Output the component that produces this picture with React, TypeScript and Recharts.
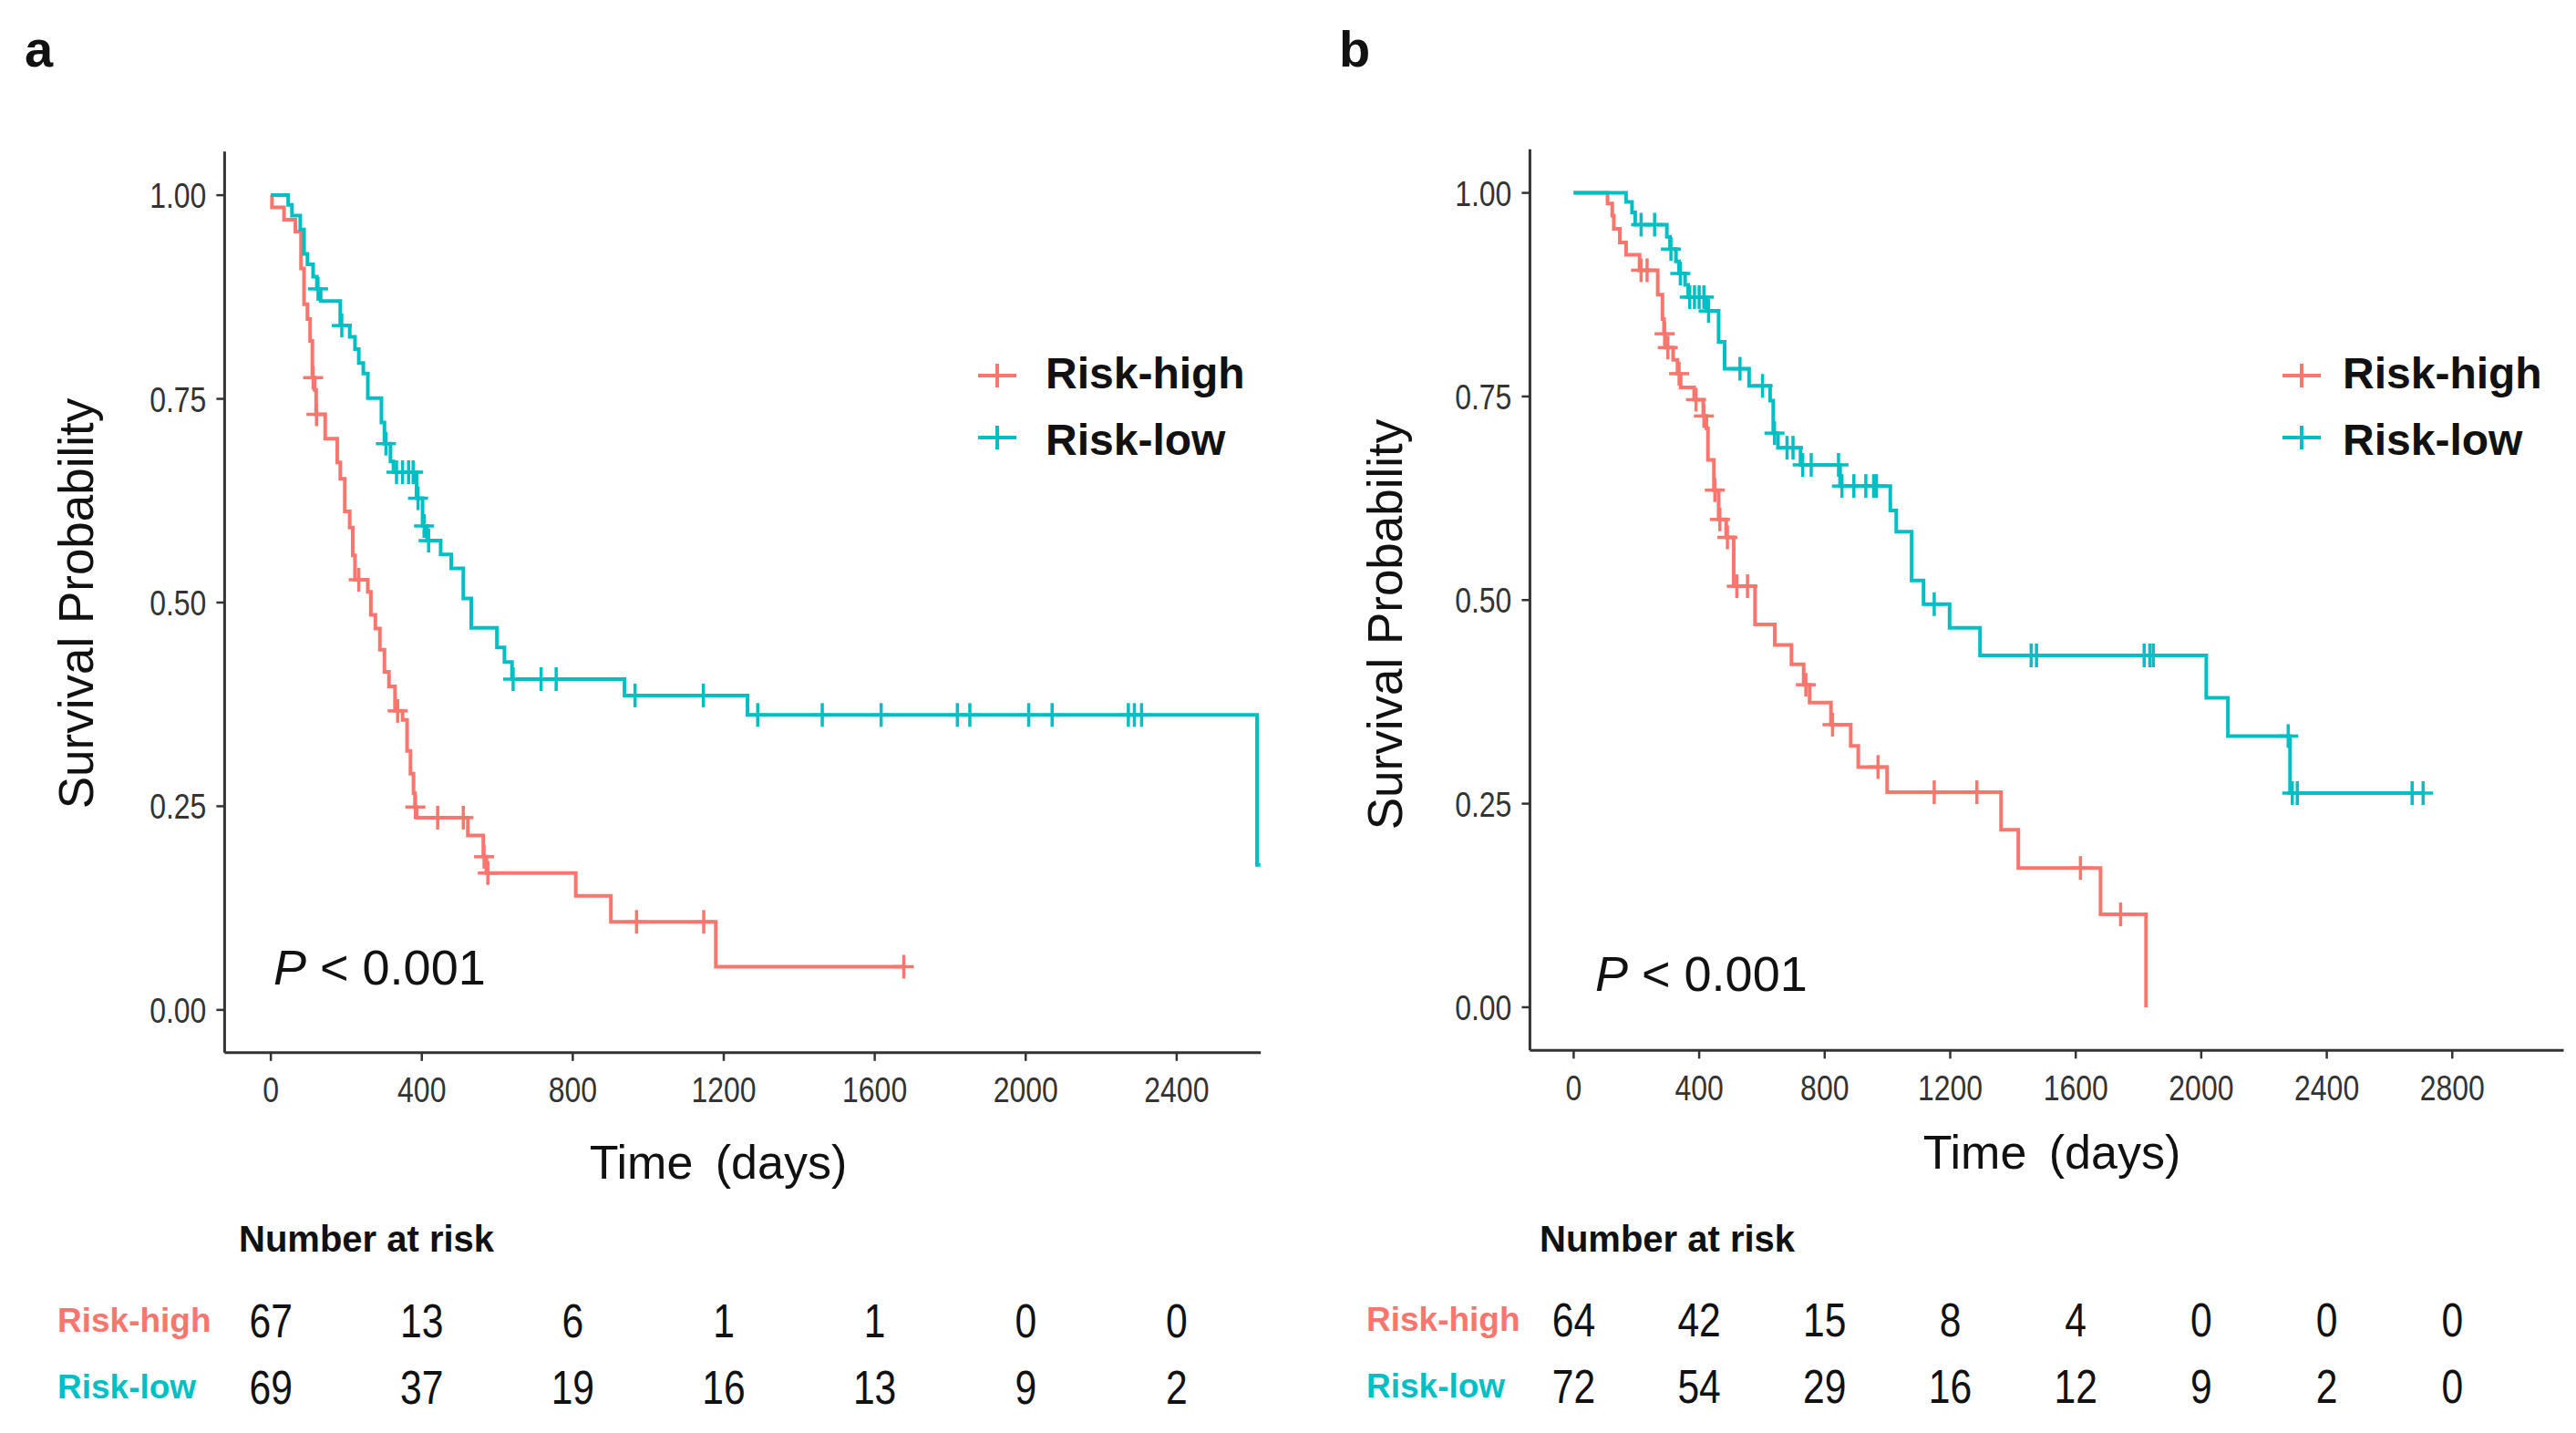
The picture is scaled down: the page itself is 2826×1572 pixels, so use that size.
import React from 'react';
import { ComposedChart, Line, Scatter, XAxis, YAxis, Legend } from 'recharts';

// ---------------- data ----------------
const RED = '#F8766D';
const TEAL = '#00BFC4';
const groupNames = ['Risk-high', 'Risk-low'];
const groupColors = [RED, TEAL];

// Panel a – Kaplan–Meier steps (time in days, survival after the step)
const aHighTime = [0, 3, 35, 65, 80, 88, 97, 104, 110, 116, 120, 144, 176, 184, 196, 209, 217, 223, 257, 265, 277, 289, 301, 313, 329, 349, 361, 370, 378, 382, 386, 522, 563, 571, 808, 901, 1179, 1677];
const aHighSurv = [1, 0.985, 0.970, 0.955, 0.910, 0.866, 0.848, 0.821, 0.776, 0.761, 0.731, 0.701, 0.672, 0.652, 0.612, 0.592, 0.558, 0.528, 0.513, 0.485, 0.468, 0.442, 0.415, 0.397, 0.367, 0.356, 0.318, 0.290, 0.266, 0.249, 0.236, 0.214, 0.188, 0.168, 0.140, 0.108, 0.053, 0.053];
const aHighCensor = [112, 121, 233, 336, 383, 442, 510, 565, 575, 969, 1147, 1677];

const aLowTime = [0, 46, 56, 78, 88, 97, 112, 122, 132, 184, 209, 223, 233, 245, 257, 293, 301, 317, 325, 386, 402, 414, 450, 478, 510, 531, 599, 619, 639, 937, 1263, 2613, 2622];
const aLowSurv = [1, 0.988, 0.975, 0.958, 0.928, 0.915, 0.900, 0.885, 0.870, 0.840, 0.826, 0.811, 0.794, 0.781, 0.751, 0.721, 0.695, 0.673, 0.660, 0.628, 0.594, 0.576, 0.559, 0.542, 0.505, 0.469, 0.445, 0.427, 0.406, 0.386, 0.362, 0.178, 0.178];
const aLowCensor = [125, 188, 305, 333, 349, 365, 377, 390, 406, 418, 642, 716, 756, 965, 1146, 1290, 1461, 1617, 1819, 1852, 2008, 2070, 2272, 2288, 2307];

// Panel b
const bHighTime = [0, 108, 123, 128, 147, 167, 210, 268, 283, 288, 292, 317, 331, 341, 384, 413, 423, 428, 447, 462, 486, 510, 578, 641, 694, 733, 752, 820, 883, 907, 999, 1362, 1417, 1679, 1824];
const bHighSurv = [1, 0.987, 0.972, 0.956, 0.939, 0.924, 0.905, 0.875, 0.845, 0.827, 0.810, 0.795, 0.778, 0.761, 0.746, 0.726, 0.711, 0.672, 0.635, 0.599, 0.577, 0.517, 0.470, 0.445, 0.421, 0.396, 0.374, 0.347, 0.321, 0.295, 0.264, 0.218, 0.171, 0.114, 0];
const bHighCensor = [215, 234, 290, 300, 336, 390, 415, 450, 466, 490, 520, 554, 740, 825, 970, 1149, 1285, 1615, 1743];

const bLowTime = [0, 167, 186, 196, 297, 307, 326, 336, 355, 365, 423, 462, 481, 559, 626, 636, 651, 723, 849, 1009, 1028, 1077, 1115, 1198, 1295, 2016, 2085, 2283, 2707];
const bLowSurv = [1, 0.989, 0.976, 0.961, 0.946, 0.931, 0.916, 0.901, 0.887, 0.872, 0.855, 0.817, 0.784, 0.763, 0.745, 0.705, 0.687, 0.666, 0.640, 0.610, 0.584, 0.524, 0.495, 0.466, 0.432, 0.380, 0.333, 0.263, 0.263];
const bLowCensor = [215, 258, 310, 340, 370, 385, 400, 415, 430, 530, 602, 640, 680, 699, 730, 757, 844, 855, 893, 931, 956, 965, 1149, 1458, 1475, 1818, 1836, 1847, 2277, 2290, 2306, 2672, 2707];

// Axis ticks
const yTicks = [0, 0.25, 0.5, 0.75, 1];
const aXTicks = [0, 400, 800, 1200, 1600, 2000, 2400];
const bXTicks = [0, 400, 800, 1200, 1600, 2000, 2400, 2800];

// Number at risk
const aRiskHigh = [67, 13, 6, 1, 1, 0, 0];
const aRiskLow = [69, 37, 19, 16, 13, 9, 2];
const bRiskHigh = [64, 42, 15, 8, 4, 0, 0, 0];
const bRiskLow = [72, 54, 29, 16, 12, 9, 2, 0];

// ---------------- helpers ----------------
const SANS = "'Liberation Sans', Arial, Helvetica, sans-serif";
const AXIS = '#333333';
const NARROW_SCALE = 0.82;

const toSteps = (times: number[], surv: number[]) => times.map((t, i) => ({ t, s: surv[i] }));
const toCensor = (times: number[], surv: number[], cens: number[]) =>
  cens.map((c) => {
    let s = surv[0];
    for (let i = 0; i < times.length; i++) if (times[i] <= c) s = surv[i];
    return { t: c, s };
  });
const toRisk = (ticks: number[], counts: number[], row: number) => ticks.map((t, i) => ({ t, s: row, n: counts[i] }));

const makeCross = (color: string) => (props: any) => {
  const { cx, cy } = props;
  if (cx == null || cy == null) return <g />;
  return (
    <g stroke={color} strokeWidth={3.5}>
      <line x1={cx - 11} x2={cx + 11} y1={cy} y2={cy} />
      <line x1={cx} x2={cx} y1={cy - 13} y2={cy + 13} />
    </g>
  );
};

const xTick = (props: any) => (
  <text
    transform={`translate(${props.x},${props.y}) scale(${NARROW_SCALE},1)`}
    textAnchor="middle"
    dy="0.71em"
    fontFamily={SANS}
    fontSize={39}
    fill={AXIS}
  >
    {props.payload.value}
  </text>
);

const yTick = (props: any) => (
  <text
    transform={`translate(${props.x},${props.y}) scale(${NARROW_SCALE},1)`}
    textAnchor="end"
    dy="0.36em"
    fontFamily={SANS}
    fontSize={39}
    fill={AXIS}
  >
    {Number(props.payload.value).toFixed(2)}
  </text>
);

const riskNumber = (props: any) => {
  const { cx, cy, payload } = props;
  if (cx == null || cy == null) return <g />;
  return (
    <text
      transform={`translate(${cx},${cy}) scale(${NARROW_SCALE},1)`}
      textAnchor="middle"
      dy="0.36em"
      fontFamily={SANS}
      fontSize={52}
      fill="#111"
    >
      {payload.n}
    </text>
  );
};

type PanelProps = {
  left: number;
  width: number;
  height: number;
  plotLeft: number;
  plotTop: number;
  plotRight: number;
  plotBottom: number;
  xDomain: [number, number];
  yDomain: [number, number];
  xTicks: number[];
  high: { t: number; s: number }[];
  low: { t: number; s: number }[];
  highC: { t: number; s: number }[];
  lowC: { t: number; s: number }[];
  legendLeft: number;
  legendTop: number;
  markerX: number;
  textX: number;
};

const Y_AXIS_W = 120;
const X_AXIS_H = 60;

const LegendBox = ({ markerX, textX }: { markerX: number; textX: number }) => {
  const rowY = [52, 120];
  const baseY = [66, 139];
  return (
    <svg width={380} height={160} style={{ overflow: 'visible' }}>
      {groupNames.map((name, i) => (
        <g key={name}>
          <line x1={markerX - 21} x2={markerX + 21} y1={rowY[i]} y2={rowY[i]} stroke={groupColors[i]} strokeWidth={4} />
          <line x1={markerX} x2={markerX} y1={rowY[i] - 13} y2={rowY[i] + 13} stroke={groupColors[i]} strokeWidth={4} />
          <text x={textX} y={baseY[i]} fontFamily={SANS} fontWeight="bold" fontSize={48} fill="#111">
            {name}
          </text>
        </g>
      ))}
    </svg>
  );
};

const SurvPanel = (p: PanelProps) => {
  const margin = {
    top: p.plotTop,
    left: p.plotLeft - Y_AXIS_W,
    right: p.width - p.plotRight,
    bottom: p.height - p.plotBottom - X_AXIS_H,
  };
  return (
    <div style={{ position: 'absolute', left: p.left, top: 0, width: p.width, height: p.height }}>
      <ComposedChart width={p.width} height={p.height} margin={margin}>
        <XAxis
          type="number"
          dataKey="t"
          domain={p.xDomain}
          ticks={p.xTicks}
          interval={0}
          allowDataOverflow
          height={X_AXIS_H}
          tickSize={9}
          tickMargin={18}
          axisLine={{ stroke: AXIS, strokeWidth: 3 }}
          tickLine={{ stroke: AXIS, strokeWidth: 2.5 }}
          tick={xTick}
        />
        <YAxis
          type="number"
          dataKey="s"
          domain={p.yDomain}
          ticks={yTicks}
          interval={0}
          allowDataOverflow
          width={Y_AXIS_W}
          tickSize={9}
          tickMargin={11}
          axisLine={{ stroke: AXIS, strokeWidth: 3 }}
          tickLine={{ stroke: AXIS, strokeWidth: 2.5 }}
          tick={yTick}
        />
        <Line data={p.high} dataKey="s" type="stepAfter" stroke={RED} strokeWidth={4} dot={false} activeDot={false} isAnimationActive={false} legendType="none" />
        <Line data={p.low} dataKey="s" type="stepAfter" stroke={TEAL} strokeWidth={4} dot={false} activeDot={false} isAnimationActive={false} legendType="none" />
        <Scatter data={p.highC} dataKey="s" shape={makeCross(RED)} isAnimationActive={false} legendType="none" />
        <Scatter data={p.lowC} dataKey="s" shape={makeCross(TEAL)} isAnimationActive={false} legendType="none" />
        <Legend
          layout="horizontal"
          verticalAlign="middle"
          align="center"
          wrapperStyle={{ left: p.legendLeft, top: p.legendTop, width: 380, height: 160 }}
          content={() => <LegendBox markerX={p.markerX} textX={p.textX} />}
        />
      </ComposedChart>
    </div>
  );
};

type RiskProps = {
  left: number;
  top: number;
  width: number;
  height: number;
  labelLeft: number;
  plotLeft: number;
  plotRight: number;
  rowHighY: number;
  rowLowY: number;
  xDomain: [number, number];
  xTicks: number[];
  high: number[];
  low: number[];
};

const RiskTable = (p: RiskProps) => {
  const margin = { top: p.rowHighY, bottom: p.height - p.rowLowY, left: p.labelLeft, right: p.width - p.plotRight };
  const labelTick = (props: any) => {
    const v = props.payload.value;
    const idx = v === 1 ? 0 : 1;
    return (
      <text x={p.labelLeft} y={props.y} dy="0.36em" fontFamily={SANS} fontWeight="bold" fontSize={37} fill={groupColors[idx]}>
        {groupNames[idx]}
      </text>
    );
  };
  return (
    <div style={{ position: 'absolute', left: p.left, top: p.top, width: p.width, height: p.height }}>
      <ComposedChart width={p.width} height={p.height} margin={margin}>
        <XAxis type="number" dataKey="t" domain={p.xDomain} allowDataOverflow hide />
        <YAxis
          type="number"
          dataKey="s"
          domain={[0, 1]}
          ticks={[0, 1]}
          interval={0}
          width={p.plotLeft - p.labelLeft}
          axisLine={false}
          tickLine={false}
          tick={labelTick}
        />
        <Scatter data={toRisk(p.xTicks, p.high, 1)} dataKey="s" shape={riskNumber} isAnimationActive={false} legendType="none" />
        <Scatter data={toRisk(p.xTicks, p.low, 0)} dataKey="s" shape={riskNumber} isAnimationActive={false} legendType="none" />
      </ComposedChart>
    </div>
  );
};

export default function App() {
  const W = 2826;
  const H = 1572;
  const half = 1413;
  const chartH = 1250;
  return (
    <div style={{ position: 'absolute', left: 0, top: 0, width: W, height: H, background: '#fff', overflow: 'hidden' }}>
      <SurvPanel
        left={0}
        width={half}
        height={chartH}
        plotLeft={246.4}
        plotTop={166.2}
        plotRight={1383.2}
        plotBottom={1154.8}
        xDomain={[-122.5, 2623]}
        yDomain={[-0.0525, 1.0536]}
        xTicks={aXTicks}
        high={toSteps(aHighTime, aHighSurv)}
        low={toSteps(aLowTime, aLowSurv)}
        highC={toCensor(aHighTime, aHighSurv, aHighCensor)}
        lowC={toCensor(aLowTime, aLowSurv, aLowCensor)}
        legendLeft={1040}
        legendTop={360}
        markerX={54}
        textX={107}
      />
      <SurvPanel
        left={half}
        width={half}
        height={chartH}
        plotLeft={265.4}
        plotTop={163.7}
        plotRight={1399.5}
        plotBottom={1152.3}
        xDomain={[-139.4, 3155]}
        yDomain={[-0.053, 1.0536]}
        xTicks={bXTicks}
        high={toSteps(bHighTime, bHighSurv)}
        low={toSteps(bLowTime, bLowSurv)}
        highC={toCensor(bHighTime, bHighSurv, bHighCensor)}
        lowC={toCensor(bLowTime, bLowSurv, bLowCensor)}
        legendLeft={1060}
        legendTop={360}
        markerX={52}
        textX={97}
      />
      <RiskTable
        left={0}
        top={1380}
        width={half}
        height={190}
        labelLeft={63}
        plotLeft={246.4}
        plotRight={1383.2}
        rowHighY={68}
        rowLowY={141}
        xDomain={[-122.5, 2623]}
        xTicks={aXTicks}
        high={aRiskHigh}
        low={aRiskLow}
      />
      <RiskTable
        left={half}
        top={1380}
        width={half}
        height={190}
        labelLeft={86}
        plotLeft={265.4}
        plotRight={1399.5}
        rowHighY={67}
        rowLowY={140}
        xDomain={[-139.4, 3155]}
        xTicks={bXTicks}
        high={bRiskHigh}
        low={bRiskLow}
      />
      <svg width={W} height={H} style={{ position: 'absolute', left: 0, top: 0, pointerEvents: 'none' }}>
        <text x={27} y={73} fontFamily={SANS} fontWeight="bold" fontSize={56} fill="#111">a</text>
        <text x={1469} y={73} fontFamily={SANS} fontWeight="bold" fontSize={56} fill="#111">b</text>
        <text transform="translate(102,662) rotate(-90)" textAnchor="middle" fontFamily={SANS} fontSize={53} fill="#111">Survival Probability</text>
        <text transform="translate(1538,685) rotate(-90)" textAnchor="middle" fontFamily={SANS} fontSize={53} fill="#111">Survival Probability</text>
        <text x={788} y={1293} textAnchor="middle" fontFamily={SANS} fontSize={52} wordSpacing={10} fill="#111">Time (days)</text>
        <text x={2251} y={1282} textAnchor="middle" fontFamily={SANS} fontSize={52} wordSpacing={10} fill="#111">Time (days)</text>
        <text x={300} y={1080} fontFamily={SANS} fontSize={54} fill="#111"><tspan fontStyle="italic">P</tspan> &lt; 0.001</text>
        <text x={1750} y={1087} fontFamily={SANS} fontSize={54} fill="#111"><tspan fontStyle="italic">P</tspan> &lt; 0.001</text>
        <text x={262} y={1373} fontFamily={SANS} fontWeight="bold" fontSize={40} fill="#111">Number at risk</text>
        <text x={1689} y={1373} fontFamily={SANS} fontWeight="bold" fontSize={40} fill="#111">Number at risk</text>
      </svg>
    </div>
  );
}
